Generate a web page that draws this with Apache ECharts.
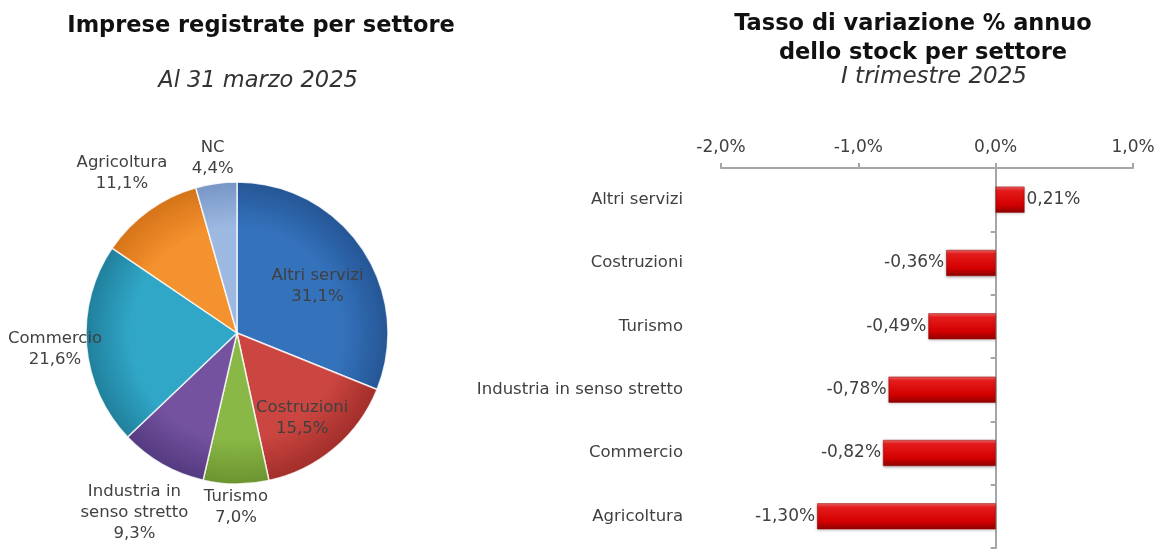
<!DOCTYPE html>
<html>
<head>
<meta charset="utf-8">
<script src="https://cdn.jsdelivr.net/npm/echarts@6/dist/echarts.min.js"></script>
<style>
  html, body { margin: 0; padding: 0; background: #fff; }
  #chart { width: 1156px; height: 550px; }
</style>
</head>
<body>
<div id="chart"></div>
<script>
// pie: imprese registrate per settore, quota %
const pieNames = ['Altri servizi', 'Costruzioni', 'Turismo', 'Industria in senso stretto', 'Commercio', 'Agricoltura', 'NC']
const pieShare = [31.1, 15.5, 7.0, 9.3, 21.6, 11.1, 4.4]

// bar: tasso di variazione % annuo
const barCats = ['Altri servizi', 'Costruzioni', 'Turismo', 'Industria in senso stretto', 'Commercio', 'Agricoltura']
const barValues = [0.21, -0.36, -0.49, -0.78, -0.82, -1.30]
const axisTicks = [-2, -1, 0, 1]

const FONT = 'DejaVu Sans'
const TXT = '#404040'
const PIE_C = [237, 333]
const PIE_R = 151

// light / dark shade per slice
const sliceColors = [
  ['#3472bc', '#255695'],
  ['#cc4641', '#a22e2a'],
  ['#8ab846', '#6b9430'],
  ['#74529f', '#543a80'],
  ['#31a7c8', '#20809c'],
  ['#f4922f', '#d57318'],
  ['#9db9e2', '#7896c6']
]

const comma = (v, d) => v.toFixed(d).replace('.', ',')
const total = pieShare.reduce((a, b) => a + b, 0)

const chart = echarts.init(document.getElementById('chart'))

chart.setOption({
  backgroundColor: '#fff',
  animation: false,
  title: [
    {
      text: 'Imprese registrate per settore',
      left: 261, top: 15, textAlign: 'center', padding: 0,
      textStyle: { fontFamily: FONT, fontSize: 22.5, fontWeight: 'bold', color: '#111' }
    },
    {
      text: 'Al 31 marzo 2025',
      left: 258, top: 70, textAlign: 'center', padding: 0,
      textStyle: { fontFamily: FONT, fontSize: 22.5, fontStyle: 'italic', fontWeight: 'normal', color: '#333' }
    },
    {
      text: 'Tasso di variazione % annuo',
      left: 913, top: 13, textAlign: 'center', padding: 0,
      textStyle: { fontFamily: FONT, fontSize: 22.5, fontWeight: 'bold', color: '#111' }
    },
    {
      text: 'dello stock per settore',
      left: 923, top: 42, textAlign: 'center', padding: 0,
      textStyle: { fontFamily: FONT, fontSize: 22.5, fontWeight: 'bold', color: '#111' }
    },
    {
      text: 'I trimestre 2025',
      left: 934, top: 66, textAlign: 'center', padding: 0,
      textStyle: { fontFamily: FONT, fontSize: 23, fontStyle: 'italic', fontWeight: 'normal', color: '#333' }
    }
  ],
  grid: {
    left: 721, right: 23, top: 168, bottom: 2,
    containLabel: false, outerBoundsMode: 'none'
  },
  xAxis: {
    type: 'value',
    position: 'top',
    min: axisTicks[0],
    max: axisTicks[axisTicks.length - 1],
    interval: 1,
    splitLine: { show: false },
    axisLine: { show: true, lineStyle: { color: '#a6a6a6', width: 2 } },
    axisTick: { show: true, length: 5, lineStyle: { color: '#a6a6a6', width: 2 } },
    axisLabel: {
      margin: 12,
      fontFamily: FONT, fontSize: 17, color: TXT,
      formatter: v => comma(v, 1) + '%'
    }
  },
  yAxis: {
    type: 'category',
    inverse: true,
    data: barCats,
    axisLine: { show: true, onZero: true, lineStyle: { color: '#a6a6a6', width: 2 } },
    axisTick: { show: true, length: 5, lineStyle: { color: '#a6a6a6', width: 2 } },
    axisLabel: { margin: 38, fontFamily: FONT, fontSize: 16.5, color: TXT }
  },
  series: [
    {
      type: 'pie',
      center: PIE_C,
      radius: PIE_R,
      startAngle: 90,
      clockwise: true,
      data: pieNames.map((n, i) => ({
        name: n,
        value: pieShare[i],
        itemStyle: {
          color: {
            type: 'radial', x: PIE_C[0], y: PIE_C[1], r: PIE_R, global: true,
            colorStops: [
              { offset: 0, color: sliceColors[i][0] },
              { offset: 0.7, color: sliceColors[i][0] },
              { offset: 1, color: sliceColors[i][1] }
            ]
          }
        }
      })),
      itemStyle: { borderColor: 'rgba(255,255,255,0.8)', borderWidth: 1.5 },
      label: {
        show: true,
        position: 'inside',
        fontFamily: FONT, fontSize: 16.5, color: TXT, lineHeight: 21,
        formatter: p => p.name.replace(' in senso', ' in\nsenso') + '\n' + comma(p.value, 1) + '%'
      },
      labelLine: { show: false },
      labelLayout: function (p) {
        const i = p.dataIndex
        let before = 0
        for (let k = 0; k < i; k++) before += pieShare[k]
        const mid = (before + pieShare[i] / 2) / total * Math.PI * 2
        const dx = Math.sin(mid), dy = -Math.cos(mid)
        const w = p.labelRect.width, h = p.labelRect.height
        const support = Math.abs(dx) * w / 2 + Math.abs(dy) * h / 2
        const inside = pieShare[i] > 15 && dx > 0
        const d = inside ? PIE_R - support - 4 : PIE_R + 2 + support
        let x = PIE_C[0] + dx * d
        let y = PIE_C[1] + dy * d
        if (inside) y += 8
        x = Math.max(x, w / 2 + 8)
        return { x: x, y: y, align: 'center', verticalAlign: 'middle' }
      },
      emphasis: { disabled: true }
    },
    {
      type: 'bar',
      barWidth: 26,
      data: barValues.map(v => ({
        value: v,
        label: { position: v < 0 ? 'left' : 'right' }
      })),
      itemStyle: {
        color: {
          type: 'linear', x: 0, y: 0, x2: 0, y2: 1,
          colorStops: [
            { offset: 0, color: '#f26a6a' },
            { offset: 0.15, color: '#e51c1c' },
            { offset: 0.7, color: '#d30000' },
            { offset: 1, color: '#8e0000' }
          ]
        },
        borderColor: '#9a0000',
        borderWidth: 0.5,
        shadowColor: 'rgba(0,0,0,0.3)',
        shadowBlur: 3,
        shadowOffsetY: 1
      },
      label: {
        show: true,
        distance: 2,
        fontFamily: FONT, fontSize: 17, color: TXT,
        formatter: p => comma(p.value, 2) + '%'
      },
      emphasis: { disabled: true }
    }
  ]
})
</script>
</body>
</html>
